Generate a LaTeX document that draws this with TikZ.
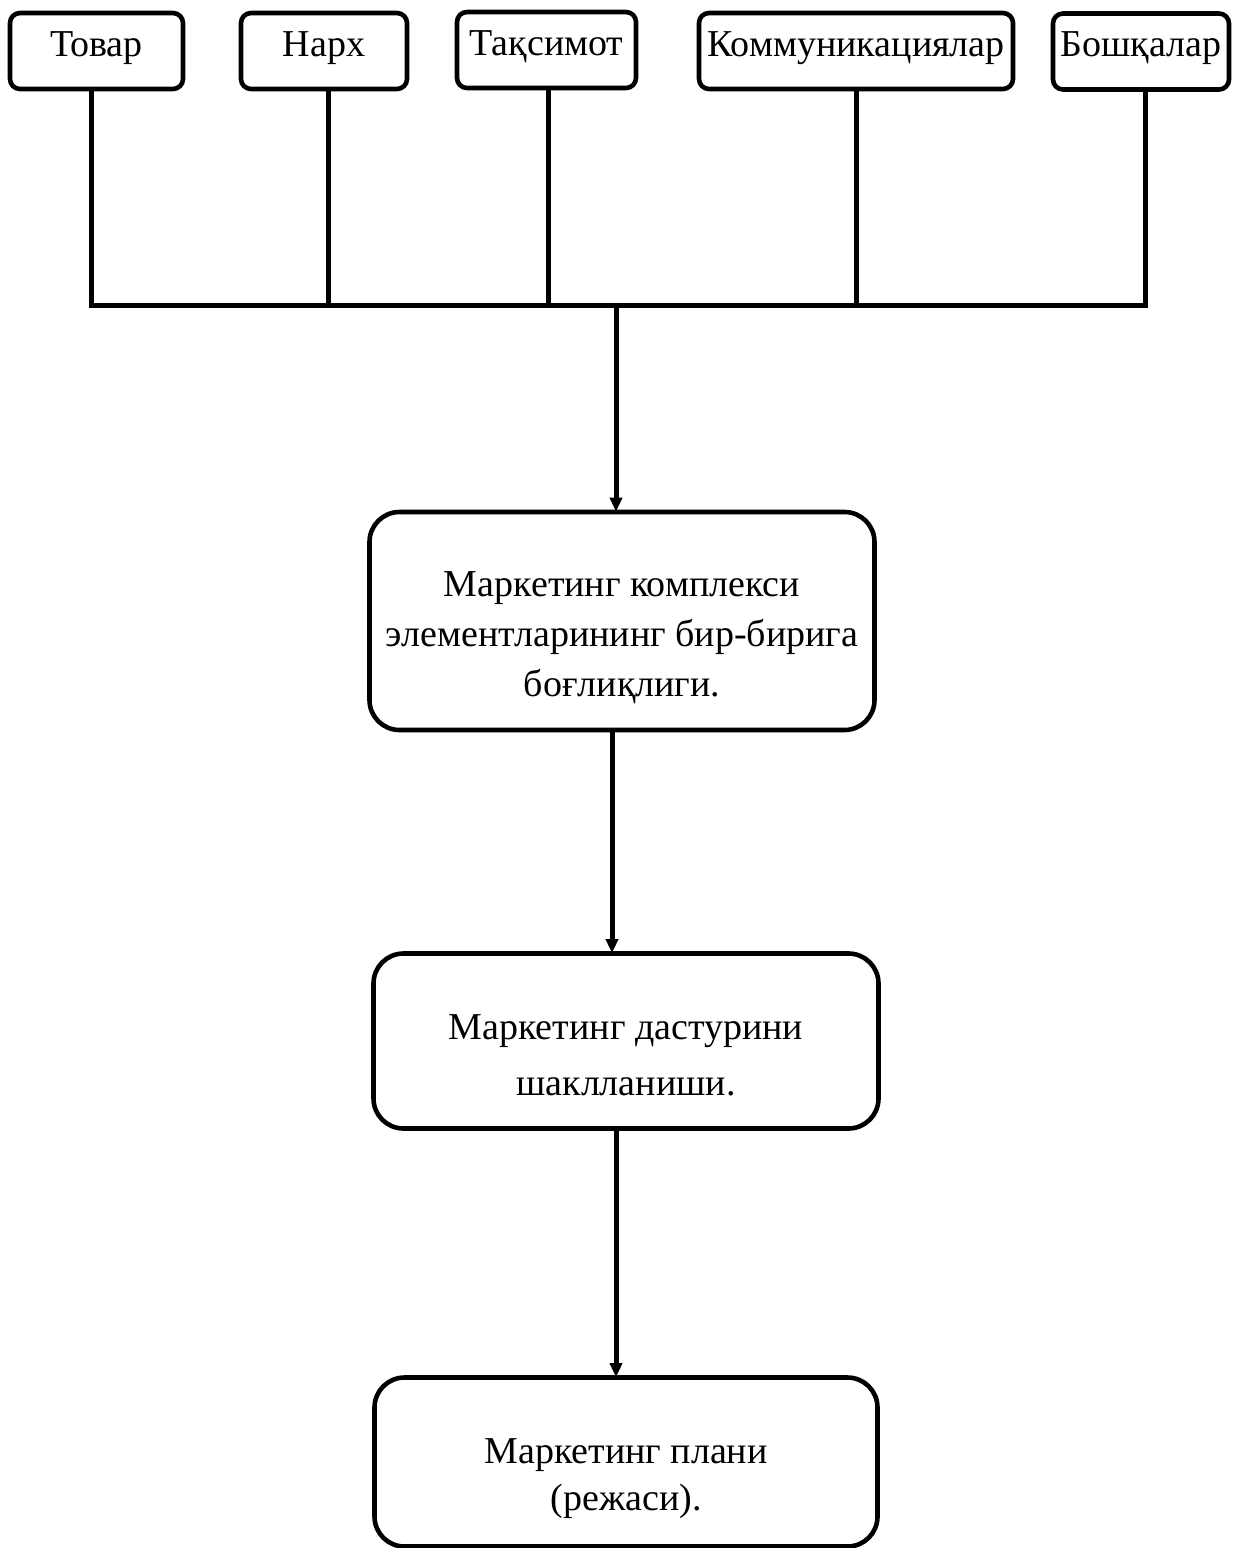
\documentclass[tikz,border=0pt]{standalone}
\usepackage{fontspec}
\setmainfont{Liberation Serif}
\usetikzlibrary{arrows.meta}
\newcommand{\pushdown}[2]{\raisebox{0pt}[\dimexpr\height+#1\relax][\depth]{#2}}
\tikzset{
  topbox/.style={draw, line width=2.3pt, rounded corners=5pt, minimum height=38pt, inner sep=1pt,
    text height=13pt, text depth=8pt, font=\fontsize{19}{21}\selectfont},
  bigbox/.style={draw, line width=2.3pt, rounded corners=15pt, inner sep=2pt,
    font=\fontsize{19}{21}\selectfont},
  bus/.style={line width=2.5pt, line join=miter},
  flow/.style={line width=2.5pt, -{Triangle[length=7pt,width=6pt]}, shorten >=-1pt}
}
\begin{document}
\begin{tikzpicture}[x=0.5pt,y=-0.5pt]
\useasboundingbox (0,0) rectangle (1234,1548);
% top boxes
\node[topbox, minimum width=86.5pt] (t1) at (96.5,51) {Товар};
\node[topbox, minimum width=83pt] (t2) at (324,51) {Нарх};
\node[topbox, minimum width=89.5pt] (t3) at (546.5,50) {Тақсимот};
\node[topbox, minimum width=157pt] (t4) at (856,51) {Коммуникациялар};
\node[topbox, minimum width=88pt] (t5) at (1141,51.5) {Бошқалар};
% bus joints
\coordinate (j1) at (91,305);
\coordinate (j2) at (328,305);
\coordinate (j3) at (548,305);
\coordinate (jm) at (616,305);
\coordinate (j4) at (856,305);
\coordinate (j5) at (1145,305);
% main boxes
\node[bigbox, minimum width=252.5pt, minimum height=109pt] (b1) at (622,621)
  {\pushdown{17pt}{\begin{tabular}{@{}c@{}}Маркетинг комплекси\\[4pt] элементларининг бир-бирига\\[4pt] боғлиқлиги.\end{tabular}}};
\node[bigbox, minimum width=252.5pt, minimum height=87.5pt] (b2) at (626,1041)
  {\pushdown{18pt}{\begin{tabular}{@{}c@{}}Маркетинг дастурини\\[7pt] шаклланиши.\end{tabular}}};
\node[bigbox, minimum width=251.5pt, minimum height=84.5pt] (b3) at (626,1462)
  {\pushdown{17pt}{\begin{tabular}{@{}c@{}}Маркетинг плани\\[2.5pt] (режаси).\end{tabular}}};
% connectors
\draw[bus] (t1.south -| j1) -- (j1) -- (j5) -- (t5.south -| j5);
\draw[bus] (t2.south -| j2) -- (j2);
\draw[bus] (t3.south -| j3) -- (j3);
\draw[bus] (t4.south -| j4) -- (j4);
\draw[flow] (jm) -- (b1.north -| jm);
\coordinate (k1) at (612,730);
\draw[flow] (b1.south -| k1) -- (b2.north -| k1);
\coordinate (k2) at (616,1130);
\draw[flow] (b2.south -| k2) -- (b3.north -| k2);
\end{tikzpicture}
\end{document}
